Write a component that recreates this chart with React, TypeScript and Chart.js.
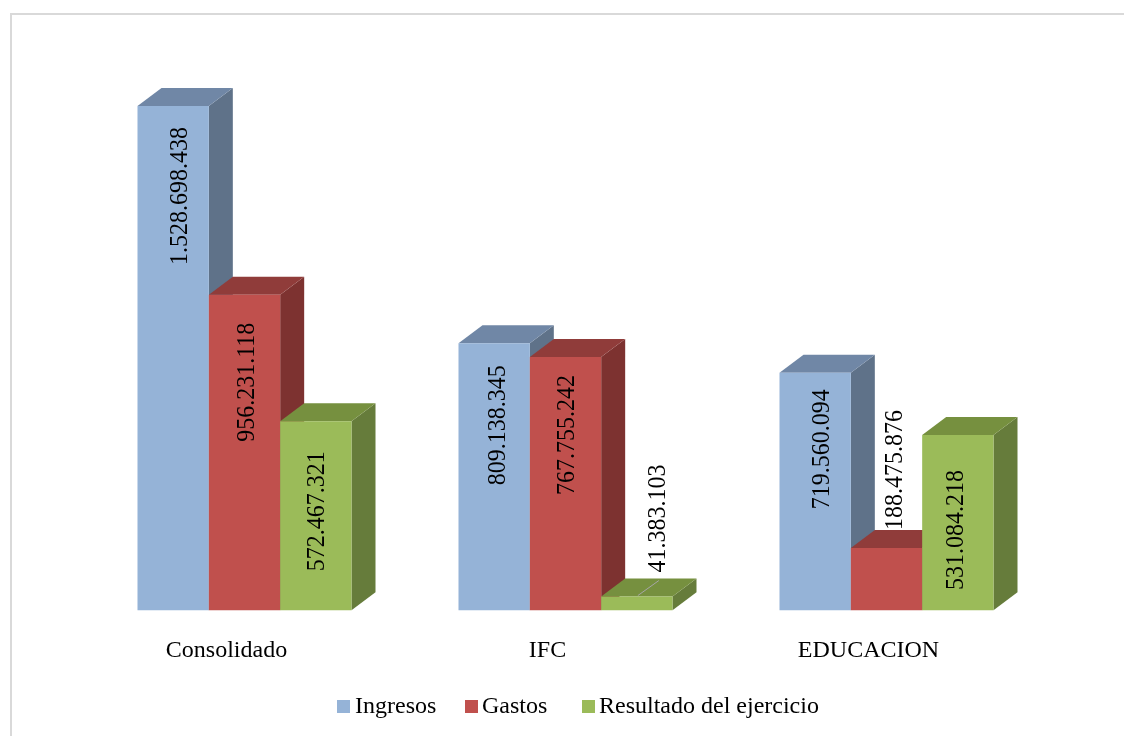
import React, { useEffect, useRef } from "react";
import { Chart, registerables } from "chart.js";

Chart.register(...registerables);

const categories = ["Consolidado", "IFC", "EDUCACION"];
const seriesNames = ["Ingresos", "Gastos", "Resultado del ejercicio"];
const ingresos = [1528698438, 809138345, 719560094];
const gastos = [956231118, 767755242, 188475876];
const resultado = [572467321, 41383103, 531084218];

const frontColors = ["#95B3D7", "#C0504D", "#9BBB59"];
const topColors = ["#7087A6", "#903C3A", "#76903F"];
const sideColors = ["#5F7289", "#7D3230", "#667C3B"];

const FONT = '"Liberation Serif", "Times New Roman", serif';
const DEPTH_X = 24;
const DEPTH_Y = 18;

// Label placement relative to each bar: [shift from the bar centre, shift from the bar top]
const labelShifts: number[][][] = [
  [[7, 90], [2.5, 87.5], [1.7, 90]],
  [[3.8, 82], [1.5, 78], [22, -78]],
  [[6.8, 76.5], [8.5, -78], [-1.8, 95]],
];

// Position of each legend entry: [swatch x, text x]
const legendSlots = [[337, 355], [465, 482], [582, 599]];

const fmt = (v: number) => String(v).replace(/\B(?=(\d{3})+(?!\d))/g, ".");

const frame = {
  id: "frame",
  beforeDraw(chart: any) {
    const { ctx } = chart;
    ctx.save();
    ctx.strokeStyle = "#D9D9D9";
    ctx.lineWidth = 2;
    ctx.beginPath();
    ctx.moveTo(11, 736);
    ctx.lineTo(11, 14);
    ctx.lineTo(1124, 14);
    ctx.stroke();
    ctx.restore();
  },
};

// Series are painted left to right, each one's top and side faces first,
// so that a bar covers the side face of the bar on its left.
const faces = {
  id: "faces",
  beforeDatasetsDraw(chart: any) {
    const { ctx } = chart;
    chart.data.datasets.forEach((_: any, i: number) => {
      const meta = chart.getDatasetMeta(i);
      meta.data.forEach((bar: any) => {
        const w = bar.width;
        const l = bar.x - w / 2;
        const r = bar.x + w / 2;
        const t = bar.y;
        const b = bar.base;
        ctx.save();
        ctx.fillStyle = sideColors[i];
        ctx.beginPath();
        ctx.moveTo(r, t);
        ctx.lineTo(r + DEPTH_X, t - DEPTH_Y);
        ctx.lineTo(r + DEPTH_X, b - DEPTH_Y);
        ctx.lineTo(r, b);
        ctx.closePath();
        ctx.fill();
        ctx.fillStyle = topColors[i];
        ctx.beginPath();
        ctx.moveTo(l, t);
        ctx.lineTo(l + DEPTH_X, t - DEPTH_Y);
        ctx.lineTo(r + DEPTH_X, t - DEPTH_Y);
        ctx.lineTo(r, t);
        ctx.closePath();
        ctx.fill();
        ctx.restore();
      });
      meta.controller.draw();
    });
    return false;
  },
};

const labels = {
  id: "barLabels",
  afterDraw(chart: any) {
    const { ctx } = chart;
    chart.data.datasets.forEach((ds: any, i: number) => {
      chart.getDatasetMeta(i).data.forEach((bar: any, c: number) => {
        const [dx, dy] = labelShifts[c][i];
        // leader line of the label that sits outside a very short bar
        if (dy < 0 && dx > 10) {
          ctx.save();
          ctx.strokeStyle = "#A6A6A6";
          ctx.lineWidth = 1;
          ctx.beginPath();
          ctx.moveTo(bar.x + 1, bar.y - 1);
          ctx.lineTo(bar.x + 22, bar.y - 16);
          ctx.stroke();
          ctx.restore();
        }
        ctx.save();
        ctx.translate(bar.x + dx, bar.y + dy);
        ctx.rotate(-Math.PI / 2);
        ctx.scale(1, 1.05);
        ctx.font = `24px ${FONT}`;
        ctx.fillStyle = "#000000";
        ctx.textAlign = "center";
        ctx.textBaseline = "middle";
        ctx.fillText(fmt(ds.data[c]), 0, 0);
        ctx.restore();
      });
    });
  },
};

const legend = {
  id: "sideLegend",
  afterDraw(chart: any) {
    const { ctx } = chart;
    ctx.save();
    ctx.font = `24px ${FONT}`;
    ctx.textBaseline = "middle";
    chart.data.datasets.forEach((ds: any, i: number) => {
      const [bx, tx] = legendSlots[i];
      ctx.fillStyle = ds.backgroundColor;
      ctx.fillRect(bx, 700, 13, 13);
      ctx.fillStyle = "#000000";
      ctx.fillText(ds.label, tx, 707);
    });
    ctx.restore();
  },
};

export default function App() {
  const ref = useRef<HTMLCanvasElement>(null);
  useEffect(() => {
    const chart = new Chart(ref.current!, {
      type: "bar",
      data: {
        labels: categories,
        datasets: [ingresos, gastos, resultado].map((data, i) => ({
          label: seriesNames[i],
          data,
          backgroundColor: frontColors[i],
          borderWidth: 0,
          barPercentage: 1,
          categoryPercentage: 0.6667,
        })),
      },
      options: {
        responsive: false,
        animation: false,
        layout: { padding: { left: 84, right: 77, top: 60, bottom: 45 } },
        plugins: { legend: { display: false }, tooltip: { enabled: false } },
        scales: {
          x: {
            grid: { display: false, drawTicks: false },
            border: { display: false },
            ticks: {
              color: "#000000",
              font: { family: FONT, size: 24 },
              padding: 26,
              labelOffset: -18,
              maxRotation: 0,
            },
          },
          y: { display: false, min: 0, max: 1668000000 },
        },
      },
      plugins: [frame, faces, labels, legend],
    });
    return () => chart.destroy();
  }, []);
  return (
    <canvas
      ref={ref}
      width={1124}
      height={736}
      style={{ position: "absolute", left: 0, top: 0, display: "block", width: 1124, height: 736 }}
    />
  );
}
